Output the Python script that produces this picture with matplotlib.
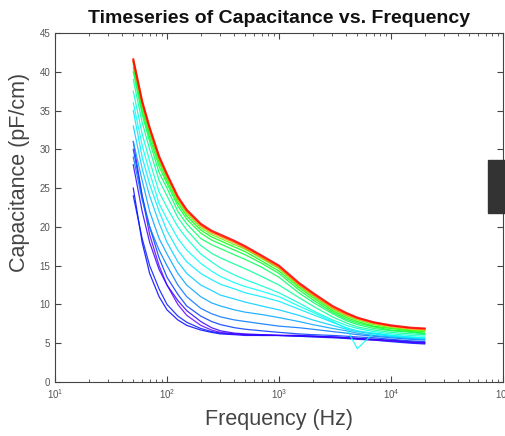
import numpy as np
import matplotlib
matplotlib.use("Agg")
import matplotlib.pyplot as plt
from matplotlib.patches import Rectangle

plt.rcParams['font.family'] = ['Liberation Sans', 'DejaVu Sans']

# frequency points (Hz)
freq = [50, 60, 70, 85, 100, 125, 150, 200, 250, 300, 400, 500, 700, 1000,
        1500, 2000, 3000, 4000, 5000, 7000, 10000, 15000, 20000]

# capacitance curves (pF/cm), bottom to top, with hue of each
curves = [
    [25, 18, 14, 11, 9.3, 8, 7.3, 6.7, 6.4, 6.2, 6.1, 6.0, 6.0, 6.0, 5.9, 5.9, 5.8, 5.7, 5.6, 5.5, 5.3, 5.1, 5.0],
    [24, 18.5, 15, 12, 10, 8.5, 7.7, 6.9, 6.5, 6.3, 6.2, 6.1, 6.0, 6.0, 5.9, 5.8, 5.7, 5.6, 5.5, 5.4, 5.2, 5.0, 4.9],
    [31, 24, 19, 15, 12.5, 10, 8.6, 7.3, 6.7, 6.4, 6.2, 6.1, 6.1, 6.0, 6.0, 5.9, 5.8, 5.7, 5.6, 5.4, 5.3, 5.1, 5.0],
    [28, 22, 18, 14.5, 12.5, 10.5, 9.2, 7.8, 7.0, 6.6, 6.3, 6.2, 6.1, 6.0, 6.0, 5.9, 5.8, 5.7, 5.6, 5.5, 5.4, 5.2, 5.1],
    [30, 24, 20, 16, 13.5, 11.3, 9.8, 8.5, 7.8, 7.4, 7.0, 6.8, 6.6, 6.4, 6.2, 6.1, 6.0, 5.9, 5.8, 5.7, 5.5, 5.3, 5.2],
    [29, 23.5, 20, 17, 15, 12.5, 11, 9.5, 8.8, 8.4, 8.0, 7.8, 7.5, 7.2, 7.0, 6.8, 6.5, 6.3, 6.1, 5.9, 5.7, 5.5, 5.4],
    [31, 26, 22, 18.5, 16.5, 14, 12.5, 11, 10.2, 9.8, 9.3, 9.0, 8.7, 8.3, 7.8, 7.4, 6.9, 6.6, 6.3, 6.0, 5.8, 5.6, 5.5],
    [33, 27.5, 24, 20.5, 18, 15.5, 14, 12.5, 11.8, 11.2, 10.7, 10.3, 9.8, 9.3, 8.6, 8.0, 7.3, 6.8, 6.5, 6.2, 5.9, 5.7, 5.6],
    [35, 29, 25.5, 22, 19.5, 17, 15.5, 14, 13.2, 12.6, 12.0, 11.5, 11.0, 10.4, 9.4, 8.7, 7.7, 7.0, 6.6, 6.3, 6.0, 5.8, 5.6],
    [36, 30.5, 27, 23, 21, 18.5, 17, 15.3, 14.3, 13.6, 12.8, 12.3, 11.7, 11.0, 9.8, 9.0, 7.8, 6.9, 4.3, 6.3, 6.0, 5.8, 5.7],
    [37.5, 32, 28.5, 24.5, 22.5, 20, 18.5, 16.5, 15.5, 14.7, 13.8, 13.2, 12.4, 11.5, 10.2, 9.2, 8.0, 7.3, 6.9, 6.5, 6.2, 6.0, 5.9],
    [39, 33.5, 30, 26, 24, 21.2, 19.6, 17.6, 16.6, 16.0, 15.2, 14.6, 13.6, 12.5, 10.9, 9.8, 8.4, 7.6, 7.1, 6.7, 6.4, 6.2, 6.1],
    [40, 34.5, 31, 27, 25, 22, 20.4, 18.5, 17.7, 17.2, 16.4, 15.8, 14.8, 13.5, 11.5, 10.3, 8.8, 7.9, 7.4, 6.9, 6.6, 6.4, 6.2],
    [40.5, 35, 31.5, 27.8, 25.6, 22.7, 21, 19.2, 18.3, 17.8, 17.0, 16.4, 15.3, 14.0, 11.9, 10.6, 9.0, 8.1, 7.6, 7.1, 6.7, 6.5, 6.3],
    [41, 35.5, 32, 28.3, 26, 23.1, 21.4, 19.6, 18.7, 18.2, 17.4, 16.8, 15.6, 14.3, 12.2, 10.9, 9.2, 8.3, 7.8, 7.2, 6.9, 6.6, 6.5],
    [41.2, 35.8, 32.3, 28.6, 26.3, 23.4, 21.7, 19.9, 19.0, 18.5, 17.7, 17.1, 15.9, 14.6, 12.4, 11.1, 9.4, 8.5, 8.0, 7.4, 7.0, 6.7, 6.6],
    [41.4, 36, 32.6, 28.9, 26.6, 23.7, 22, 20.2, 19.3, 18.8, 18.0, 17.3, 16.1, 14.8, 12.6, 11.3, 9.6, 8.7, 8.2, 7.6, 7.2, 6.9, 6.8],
    [41.6, 36.2, 32.8, 29.1, 26.8, 23.9, 22.2, 20.4, 19.5, 19.0, 18.2, 17.5, 16.3, 15.0, 12.8, 11.5, 9.8, 8.9, 8.3, 7.7, 7.3, 7.0, 6.9],
]
hues = [0.68, 0.66, 0.74, 0.71, 0.64, 0.60, 0.57, 0.54, 0.52, 0.50, 0.48,
        0.44, 0.40, 0.37, 0.34, 0.28, 0.08, 0.0]

fig = plt.figure(figsize=(5.06, 4.36), dpi=100)
ax = fig.add_axes([0.1087, 0.1239, 0.8853, 0.8004])

hsv = matplotlib.colormaps['hsv']
for c, h in zip(curves, hues):
    lw = 1.5 if h < 0.1 else 0.9
    ax.plot(freq, c, color=hsv(h), lw=lw, alpha=0.85)

ax.set_xscale('log')
ax.set_xlim(10, 1e5)
ax.set_ylim(0, 45)
ax.set_yticks(range(0, 46, 5))
ax.tick_params(which='both', direction='in', top=True, right=True,
               colors='#444444', labelsize=7, labelcolor='#555555')
ax.tick_params(which='major', length=4)
ax.tick_params(which='minor', length=2)
for s in ax.spines.values():
    s.set_color('#444444')
    s.set_linewidth(0.8)

ax.set_xlabel('Frequency (Hz)', fontsize=15.5, color='#444444', labelpad=6)
ax.set_ylabel('Capacitance (pF/cm)', fontsize=15.5, color='#444444')
ax.yaxis.set_label_coords(-0.055, 0.6)
ax.set_title('Timeseries of Capacitance vs. Frequency', fontsize=14,
             fontweight='bold', color='#111111', pad=7)

# dark box at the right edge
fig.patches.append(Rectangle((488 / 506, 1 - 213 / 436), 20 / 506, 53 / 436,
                             transform=fig.transFigure, color='#333333'))

fig.savefig('out.png', dpi=100)
